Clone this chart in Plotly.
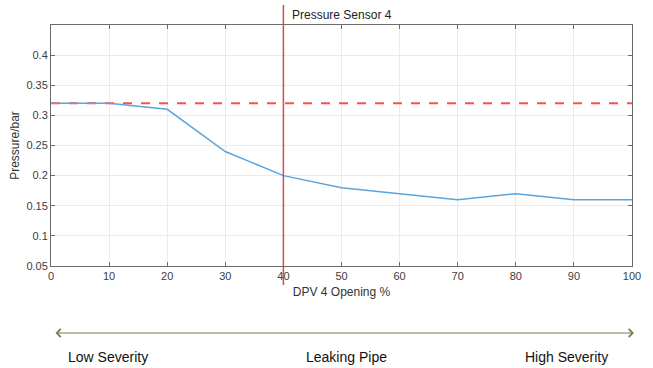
import plotly.graph_objects as go

opening = [0, 10, 20, 30, 40, 50, 60, 70, 80, 90, 100]
pressure = [0.32, 0.32, 0.31, 0.24, 0.20, 0.18, 0.17, 0.16, 0.17, 0.16, 0.16]
threshold = 0.32
sensor_x = 40
x_ticks = [0, 10, 20, 30, 40, 50, 60, 70, 80, 90, 100]
y_ticks = [0.05, 0.1, 0.15, 0.2, 0.25, 0.3, 0.35, 0.4]
y_labels = ["0.05", "0.1", "0.15", "0.2", "0.25", "0.3", "0.35", "0.4"]

fig = go.Figure()
fig.add_trace(go.Scatter(x=[0, 100], y=[threshold, threshold], mode="lines",
                         line=dict(color="#ff4d4d", width=2, dash="dash"), showlegend=False))
fig.add_trace(go.Scatter(x=opening, y=pressure, mode="lines",
                         line=dict(color="#5aa5dc", width=1.5), showlegend=False))

fig.add_shape(type="line", xref="x", yref="paper", x0=sensor_x, x1=sensor_x,
              y0=-0.079, y1=1.083, line=dict(color="#d8494b", width=1.5))

font_tick = dict(family="Liberation Sans, Arial", size=11, color="#404040")
axis_common = dict(showline=True, linecolor="#6a6a6a", linewidth=1, mirror="ticks",
                   ticks="inside", ticklen=4, tickcolor="#6a6a6a", showgrid=True,
                   gridcolor="#ebebeb", gridwidth=1, zeroline=False, tickfont=font_tick)

fig.update_xaxes(range=[0, 100], tickvals=x_ticks, **axis_common,
                 title=dict(text="DPV 4 Opening %", font=dict(family="Liberation Sans, Arial", size=12, color="#333"), standoff=6))
fig.update_yaxes(range=[0.05, 0.45], tickvals=y_ticks, ticktext=y_labels, **axis_common,
                 title=dict(text="Pressure/bar", font=dict(family="Liberation Sans, Arial", size=12, color="#333"), standoff=4))

fig.add_annotation(xref="paper", yref="paper", x=sensor_x / 100 + 0.012, y=1.04,
                   text="Pressure Sensor 4", showarrow=False, xanchor="left", yanchor="middle",
                   font=dict(family="Liberation Sans, Arial", size=12, color="#222"))

fig.add_annotation(xref="paper", yref="paper", axref="pixel", ayref="pixel",
                   x=1.0034, y=-0.278, ax=-580, ay=0, text="", showarrow=True,
                   arrowside="end+start", arrowhead=4, arrowsize=1.3, arrowwidth=1.2,
                   arrowcolor="#6d7f52")

lab_font = dict(family="Liberation Sans, Arial", size=14, color="#111")
for x, t in [(0.025, "Low Severity"), (0.509, "Leaking Pipe"), (0.813, "High Severity")]:
    fig.add_annotation(xref="paper", yref="paper", x=x, y=-0.378, text=t, showarrow=False,
                       xanchor="left" if t != "Leaking Pipe" else "center", yanchor="middle", font=lab_font)

fig.update_layout(width=653, height=368, margin=dict(l=51, r=16, t=25, b=102),
                  plot_bgcolor="white", paper_bgcolor="white")
fig.write_html("out.html")
